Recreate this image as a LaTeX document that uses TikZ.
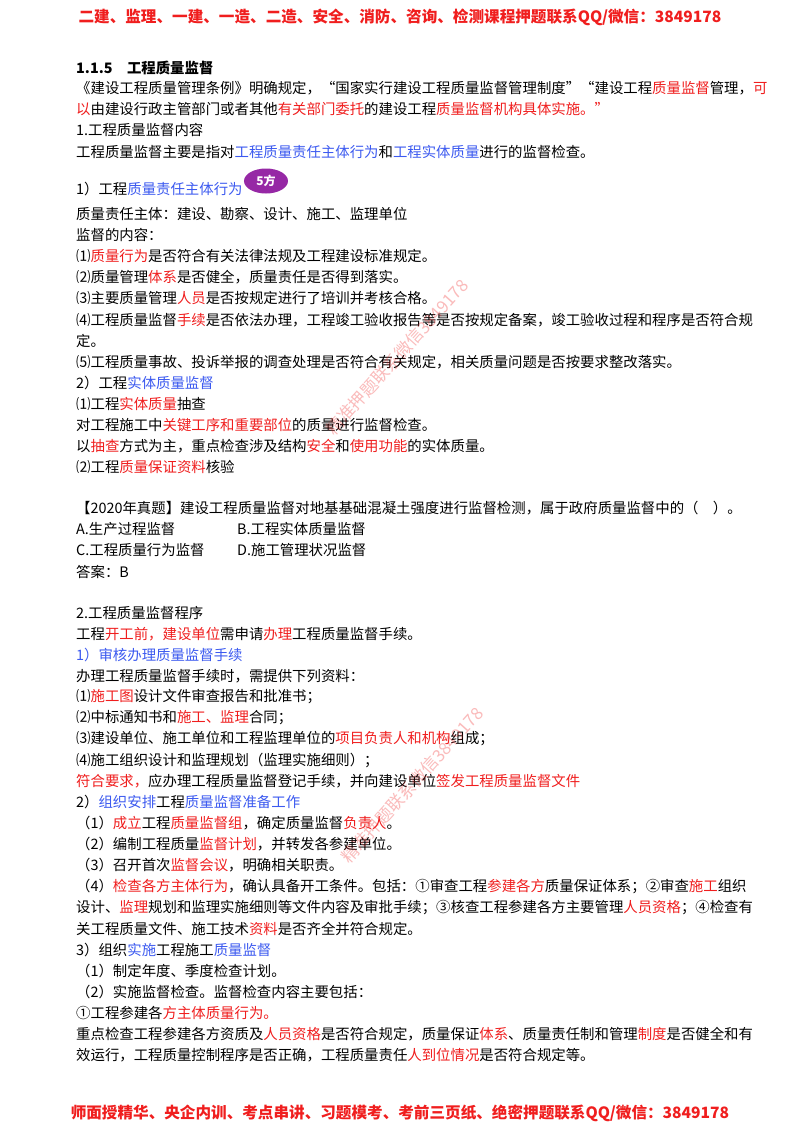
\documentclass[tikz,border=0pt]{standalone}
\usepackage{fontspec}
\setmainfont{Noto Sans CJK SC}
\usetikzlibrary{shapes.geometric}
\definecolor{rr}{RGB}{240,30,30}
\definecolor{bb}{RGB}{60,90,240}
\definecolor{pp}{RGB}{150,40,165}
\newcommand{\rd}[1]{{\color{rr}#1}}
\newcommand{\bl}[1]{{\color{bb}#1}}
\begin{document}
\begin{tikzpicture}[x=1pt,y=-1pt,
  ln/.style={anchor=west,inner sep=0pt,font=\fontsize{14.4}{14.4}\selectfont},
  hd/.style={inner sep=0pt,text=rr,font=\fontsize{15.6}{15.6}\selectfont\bfseries},
  wm/.style={inner sep=0pt,text=rr,opacity=0.3,rotate=48,font=\fontsize{17}{17}\selectfont}]
\useasboundingbox (0,0) rectangle (800,1132);
\fill[white] (0,0) rectangle (800,1132);
\node[hd] (h) at (400,17) {二建、监理、一建、一造、二造、安全、消防、咨询、检测课程押题联系QQ/微信：3849178};
\node[ln,font=\fontsize{14.4}{14.4}\selectfont\bfseries] (l1) at (76,68) {1.1.5\quad 工程质量监督};
\node[ln] (l2) at (76,88) {《建设工程质量管理条例》明确规定，“国家实行建设工程质量监督管理制度”“建设工程\rd{质量监督}管理，\rd{可}};
\node[ln] (l3) at (76,109) {\rd{以}由建设行政主管部门或者其他\rd{有关部门委托}的建设工程\rd{质量监督机构具体实施。”}};
\node[ln] (l4) at (76,130) {1.工程质量监督内容};
\node[ln] (l5) at (76,152) {工程质量监督主要是指对\bl{工程质量责任主体行为}和\bl{工程实体质量}进行的监督检查。};
\node[ln] (l6) at (76,189) {1）工程\bl{质量责任主体行为}};
\node[ellipse,fill=pp,text=white,minimum width=44pt,minimum height=25pt,inner sep=0pt,anchor=west,font=\fontsize{12}{12}\selectfont\bfseries] (e) at ([xshift=1pt,yshift=8pt]l6.east) {5方};
\node[ln] (l7) at (76,214) {质量责任主体：建设、勘察、设计、施工、监理单位};
\node[ln] (l8) at (76,235) {监督的内容：};
\node[ln] (l9) at (76,256) {⑴\rd{质量行为}是否符合有关法律法规及工程建设标准规定。};
\node[ln] (l10) at (76,277) {⑵质量管理\rd{体系}是否健全，质量责任是否得到落实。};
\node[ln] (l11) at (76,298) {⑶主要质量管理\rd{人员}是否按规定进行了培训并考核合格。};
\node[ln] (l12) at (76,320) {⑷工程质量监督\rd{手续}是否依法办理，工程竣工验收报告等是否按规定备案，竣工验收过程和程序是否符合规};
\node[ln] (l13) at (76,341) {定。};
\node[ln] (l14) at (76,362) {⑸工程质量事故、投诉举报的调查处理是否符合有关规定，相关质量问题是否按要求整改落实。};
\node[ln] (l15) at (76,383) {2）工程\bl{实体质量监督}};
\node[ln] (l16) at (76,404) {⑴工程\rd{实体质量}抽查};
\node[ln] (l17) at (76,425) {对工程施工中\rd{关键工序和重要部位}的质量进行监督检查。};
\node[ln] (l18) at (76,446) {以\rd{抽查}方式为主，重点检查涉及结构\rd{安全}和\rd{使用功能}的实体质量。};
\node[ln] (l19) at (76,467) {⑵工程\rd{质量保证资料}核验};
\node[ln] (l20) at (76,508) {【2020年真题】建设工程质量监督对地基基础混凝土强度进行监督检测，属于政府质量监督中的（\quad ）。};
\node[ln] (l21) at (76,529) {A.生产过程监督};
\node[ln] (l21b) at (237,529) {B.工程实体质量监督};
\node[ln] (l22) at (76,550) {C.工程质量行为监督};
\node[ln] (l22b) at (237,550) {D.施工管理状况监督};
\node[ln] (l23) at (76,572) {答案：B};
\node[ln] (l24) at (76,613) {2.工程质量监督程序};
\node[ln] (l25) at (76,634) {工程\rd{开工前，建设单位}需申请\rd{办理}工程质量监督手续。};
\node[ln] (l26) at (76,655) {\bl{1）审核办理质量监督手续}};
\node[ln] (l27) at (76,676) {办理工程质量监督手续时，需提供下列资料：};
\node[ln] (l28) at (76,697) {⑴\rd{施工图}设计文件审查报告和批准书；};
\node[ln] (l29) at (76,718) {⑵中标通知书和\rd{施工、监理}合同；};
\node[ln] (l30) at (76,739) {⑶建设单位、施工单位和工程监理单位的\rd{项目负责人和机构}组成；};
\node[ln] (l31) at (76,760) {⑷施工组织设计和监理规划（监理实施细则）；};
\node[ln] (l32) at (76,781) {\rd{符合要求，}应办理工程质量监督登记手续，并向建设单位\rd{签发工程质量监督文件}};
\node[ln] (l33) at (76,802) {2）\bl{组织安排}工程\bl{质量监督准备工作}};
\node[ln] (l34) at (76,823) {（1）\rd{成立}工程\rd{质量监督组}，确定质量监督\rd{负责人}。};
\node[ln] (l35) at (76,844) {（2）编制工程质量\rd{监督计划}，并转发各参建单位。};
\node[ln] (l36) at (76,865) {（3）召开首次\rd{监督会议}，明确相关职责。};
\node[ln] (l37) at (76,886) {（4）\rd{检查各方主体行为}，确认具备开工条件。包括：①审查工程\rd{参建各方}质量保证体系；②审查\rd{施工}组织};
\node[ln] (l38) at (76,908) {设计、\rd{监理}规划和监理实施细则等文件内容及审批手续；③核查工程参建各方主要管理\rd{人员资格}；④检查有};
\node[ln] (l39) at (76,929) {关工程质量文件、施工技术\rd{资料}是否齐全并符合规定。};
\node[ln] (l40) at (76,950) {3）组织\bl{实施}工程施工\bl{质量监督}};
\node[ln] (l41) at (76,971) {（1）制定年度、季度检查计划。};
\node[ln] (l42) at (76,992) {（2）实施监督检查。监督检查内容主要包括：};
\node[ln] (l43) at (76,1013) {①工程参建各\rd{方主体质量行为。}};
\node[ln] (l44) at (76,1034) {重点检查工程参建各方资质及\rd{人员资格}是否符合规定，质量保证\rd{体系}、质量责任制和管理\rd{制度}是否健全和有};
\node[ln] (l45) at (76,1055) {效运行，工程质量控制程序是否正确，工程质量责任\rd{人到位情况}是否符合规定等。};
\node[wm] (w1) at (397,357) {精准押题联系微信3849178};
\node[wm] (w2) at (412,785) {精准押题联系微信3849178};
\node[hd] (f) at (400,1113) {师面授精华、央企内训、考点串讲、习题模考、考前三页纸、绝密押题联系QQ/微信：3849178};
\end{tikzpicture}
\end{document}
